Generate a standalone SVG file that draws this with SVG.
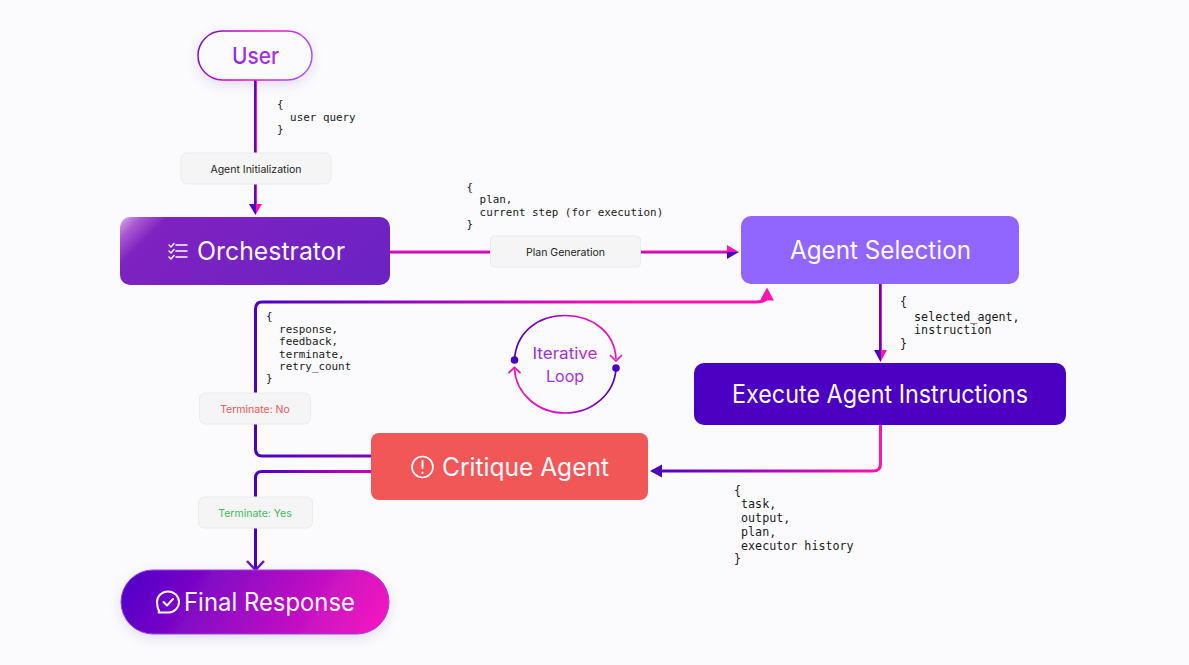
<svg xmlns="http://www.w3.org/2000/svg" width="1189" height="665" viewBox="0 0 1189 665">
<defs>
<linearGradient id="vUser" gradientUnits="userSpaceOnUse" x1="254" y1="0" x2="257" y2="0"><stop offset="0.6" stop-color="#5a08c4"/><stop offset="0.6" stop-color="#ff14b0"/></linearGradient>
<linearGradient id="vSel" gradientUnits="userSpaceOnUse" x1="879" y1="0" x2="882" y2="0"><stop offset="0.6" stop-color="#5a08c4"/><stop offset="0.6" stop-color="#ff14b0"/></linearGradient>
<linearGradient id="hPlan" gradientUnits="userSpaceOnUse" x1="0" y1="250.500" x2="0" y2="253.500"><stop offset="0" stop-color="#ff14b0"/><stop offset="1" stop-color="#b000c0"/></linearGradient>
<linearGradient id="aUser" gradientUnits="userSpaceOnUse" x1="249" y1="0" x2="262" y2="0"><stop offset="0.5" stop-color="#4b00c2"/><stop offset="0.5" stop-color="#ff14b0"/></linearGradient>
<linearGradient id="aSel" gradientUnits="userSpaceOnUse" x1="874" y1="0" x2="887" y2="0"><stop offset="0.5" stop-color="#4b00c2"/><stop offset="0.5" stop-color="#ff14b0"/></linearGradient>
<linearGradient id="aPlan" gradientUnits="userSpaceOnUse" x1="0" y1="245" x2="0" y2="259"><stop offset="0.5" stop-color="#ff14b0"/><stop offset="0.5" stop-color="#4b00c2"/></linearGradient>
<linearGradient id="hNo" gradientUnits="userSpaceOnUse" x1="255" y1="0" x2="770" y2="0"><stop offset="0" stop-color="#4b00c2"/><stop offset="0.75" stop-color="#ff14b0"/></linearGradient>
<linearGradient id="hCrit" gradientUnits="userSpaceOnUse" x1="255" y1="0" x2="372" y2="0"><stop offset="0" stop-color="#4b00c2"/><stop offset="1" stop-color="#d000b8"/></linearGradient>
<linearGradient id="hExec" gradientUnits="userSpaceOnUse" x1="650" y1="0" x2="882" y2="0"><stop offset="0" stop-color="#4b00c2"/><stop offset="1" stop-color="#ff14b0"/></linearGradient>
<linearGradient id="gOrch" gradientUnits="userSpaceOnUse" x1="120" y1="217" x2="390" y2="487"><stop offset="0" stop-color="#dcb4ea"/><stop offset="0.04" stop-color="#a858d0"/><stop offset="0.09" stop-color="#7e22c0"/><stop offset="0.65" stop-color="#6a22c4"/></linearGradient>
<linearGradient id="gFinal" gradientUnits="userSpaceOnUse" x1="150" y1="540" x2="360" y2="664"><stop offset="0" stop-color="#5200c8"/><stop offset="1" stop-color="#f418c0"/></linearGradient>
<linearGradient id="sUser" gradientUnits="userSpaceOnUse" x1="198" y1="31" x2="312" y2="80"><stop offset="0" stop-color="#6a10c8"/><stop offset="0.5" stop-color="#f010b8"/><stop offset="1" stop-color="#9d60f5"/></linearGradient>
<linearGradient id="tUser" gradientUnits="userSpaceOnUse" x1="232" y1="0" x2="279" y2="0"><stop offset="0" stop-color="#9030e0"/><stop offset="1" stop-color="#b030d8"/></linearGradient>
<linearGradient id="tLoop" gradientUnits="userSpaceOnUse" x1="530" y1="0" x2="600" y2="0"><stop offset="0" stop-color="#8a30e0"/><stop offset="1" stop-color="#c030d8"/></linearGradient>
<linearGradient id="lTop" gradientUnits="userSpaceOnUse" x1="514" y1="0" x2="616" y2="0"><stop offset="0" stop-color="#4b00c2"/><stop offset="0.7" stop-color="#e010c0"/><stop offset="1" stop-color="#f014b8"/></linearGradient>
<linearGradient id="lBot" gradientUnits="userSpaceOnUse" x1="616" y1="0" x2="514" y2="0"><stop offset="0" stop-color="#4b00c2"/><stop offset="0.6" stop-color="#e010c0"/><stop offset="1" stop-color="#f014b8"/></linearGradient>
<filter id="soft" x="-20%" y="-30%" width="140%" height="170%"><feDropShadow dx="0" dy="4" stdDeviation="6" flood-color="#5a3a90" flood-opacity="0.16"/></filter>
</defs>
<style>
.n{font-family:"Inter","Noto Sans",sans-serif;font-size:25px;fill:#fbf8ff;text-anchor:middle}
.l{font-family:"Inter","Noto Sans",sans-serif;font-size:10.500px;text-anchor:middle;fill:#222}
.m{font-family:"DejaVu Sans Mono","Liberation Mono",monospace;font-size:11.700px;fill:#1a1a1a;white-space:pre}
.s{font-size:10.900px}
.lb{fill:#f5f5f5;stroke:#ebebeb;stroke-width:1}
.c{fill:none;stroke-width:3}
.ic{fill:none;stroke:#fbf8ff;stroke-width:2;stroke-linecap:round;stroke-linejoin:round}
.lt{font-family:"Inter","Noto Sans",sans-serif;font-size:16px;fill:url(#tLoop);text-anchor:middle}
</style>
<rect width="1189" height="665" fill="#fbfbfe"/>
<g id="connectors">
<path class="c" stroke="url(#vUser)" d="M255.500 80V205"/>
<path fill="url(#aUser)" d="M249 204H262L255.500 215Z"/>
<path class="c" stroke="url(#hPlan)" d="M390 252H730"/>
<path fill="url(#aPlan)" d="M727 245L739 252L727 259Z"/>
<path class="c" stroke="url(#hNo)" d="M372 456H262Q255.500 456 255.500 449V309Q255.500 302 262 302H756Q767 302 767 296"/>
<path fill="#ff14b0" d="M760 300.500L767 287.500L774 300.500Z"/>
<path class="c" stroke="url(#hCrit)" d="M372 471.500H262Q255.500 471.500 255.500 478V569"/>
<path fill="none" stroke="#6a10c8" stroke-width="2.500" d="M247 561L255.500 570L264 561"/>
<path class="c" stroke="url(#vSel)" d="M880.500 284V352"/>
<path fill="url(#aSel)" d="M874 350H887L880.500 362Z"/>
<path class="c" stroke="url(#hExec)" d="M880.500 425V464Q880.500 471 873 471H660"/>
<path fill="#4b00c2" d="M662 464.500L650 471L662 477.500Z"/>
<path fill="none" stroke="url(#lTop)" stroke-width="1.700" d="M514.500 360C516 333 537 315.500 565 315.500C593 315.500 615 333 616 359"/>
<path fill="none" stroke="#ee14b8" stroke-width="1.700" d="M610 355L616 361L622 355"/>
<path fill="none" stroke="url(#lBot)" stroke-width="1.700" d="M616 368C615 393 593 413 565 413C537 413 516 393 514.500 369"/>
<path fill="none" stroke="#ee14b8" stroke-width="1.700" d="M508.500 373L514.500 367.500L520.500 373"/>
<circle cx="514.500" cy="360" r="3.800" fill="#4b00c2"/>
<circle cx="616" cy="368" r="3.800" fill="#4b00c2"/>
</g>
<g id="node-user">
<rect x="198" y="31" width="114" height="49" rx="24.500" fill="#fbfbfe" stroke="url(#sUser)" stroke-width="1.500" filter="url(#soft)"/>
<text x="255.500" y="64" class="n" textLength="47" lengthAdjust="spacingAndGlyphs" style="font-size:23px;font-weight:500;fill:url(#tUser)">User</text>
</g>
<g id="node-orchestrator">
<rect x="120" y="217" width="270" height="68" rx="10" fill="url(#gOrch)"/>
<path class="ic" style="stroke-width:1.500" d="M176 245H187M176 251H187M176 257H187M169 245L171 247L174 243.500M169 251L171 253L174 249.500M169 257L171 259L174 255.500"/>
<text x="271" y="260" class="n" textLength="148" lengthAdjust="spacingAndGlyphs">Orchestrator</text>
</g>
<g id="node-agent-selection">
<rect x="741" y="216" width="278" height="68" rx="10" fill="#9166ff"/>
<text x="880.500" y="259" class="n" textLength="181" lengthAdjust="spacingAndGlyphs">Agent Selection</text>
</g>
<g id="node-execute">
<rect x="694" y="363" width="372" height="62" rx="10" fill="#4b00c2"/>
<text x="880" y="403" class="n" textLength="296" lengthAdjust="spacingAndGlyphs">Execute Agent Instructions</text>
</g>
<g id="node-critique">
<rect x="371" y="433" width="277" height="67" rx="8" fill="#f25757"/>
<circle cx="422.500" cy="467" r="10.500" class="ic" style="stroke-width:1.700"/>
<path class="ic" d="M422.500 461V468M422.500 472.500V473"/>
<text x="525.500" y="476" class="n" textLength="167" lengthAdjust="spacingAndGlyphs">Critique Agent</text>
</g>
<g id="node-final">
<rect x="121" y="570" width="268" height="64" rx="32" fill="url(#gFinal)" stroke="#9a40e8" stroke-width="1" filter="url(#soft)"/>
<path class="ic" d="M159.500 612C157 608 157 604 157 602A11 10.500 0 1 1 168 612.500H158.500Z"/>
<path class="ic" d="M163.500 602L167 605.500L173 599"/>
<text x="269.500" y="611" class="n" textLength="171" lengthAdjust="spacingAndGlyphs">Final Response</text>
</g>
<g id="label-init"><rect class="lb" x="181" y="153" width="150" height="31" rx="6"/><text class="l" x="256" y="172.500">Agent Initialization</text></g>
<g id="label-plan"><rect class="lb" x="490.500" y="236" width="150" height="31" rx="4"/><text class="l" x="565.500" y="255.500">Plan Generation</text></g>
<g id="label-no"><rect class="lb" x="199.500" y="393" width="111" height="31" rx="6"/><text class="l" x="255" y="412.500" style="fill:#f25757">Terminate: No</text></g>
<g id="label-yes"><rect class="lb" x="198.500" y="497" width="114" height="31" rx="6"/><text class="l" x="255" y="516.500" style="fill:#3dbb5c">Terminate: Yes</text></g>
<g id="loop-label">
<text x="565" y="359" class="lt" textLength="65" lengthAdjust="spacingAndGlyphs">Iterative</text>
<text x="565" y="382" class="lt">Loop</text>
</g>
<g id="payloads">
<text class="m s"><tspan x="277" y="108">{</tspan><tspan x="277" y="121">  user query</tspan><tspan x="277" y="133">}</tspan></text>
<text class="m s"><tspan x="466.500" y="191">{</tspan><tspan x="466.500" y="203">  plan,</tspan><tspan x="466.500" y="216">  current step (for execution)</tspan><tspan x="466.500" y="228">}</tspan></text>
<text class="m"><tspan x="900" y="306">{</tspan><tspan x="900" y="321">  selected_agent,</tspan><tspan x="900" y="334">  instruction</tspan><tspan x="900" y="348">}</tspan></text>
<text class="m s"><tspan x="266" y="320">{</tspan><tspan x="266" y="333">  response,</tspan><tspan x="266" y="345">  feedback,</tspan><tspan x="266" y="357.500">  terminate,</tspan><tspan x="266" y="370">  retry_count</tspan><tspan x="266" y="382">}</tspan></text>
<text class="m"><tspan x="734" y="495">{</tspan><tspan x="734" y="508"> task,</tspan><tspan x="734" y="522"> output,</tspan><tspan x="734" y="536"> plan,</tspan><tspan x="734" y="550"> executor history</tspan><tspan x="734" y="563">}</tspan></text>
</g>
</svg>
